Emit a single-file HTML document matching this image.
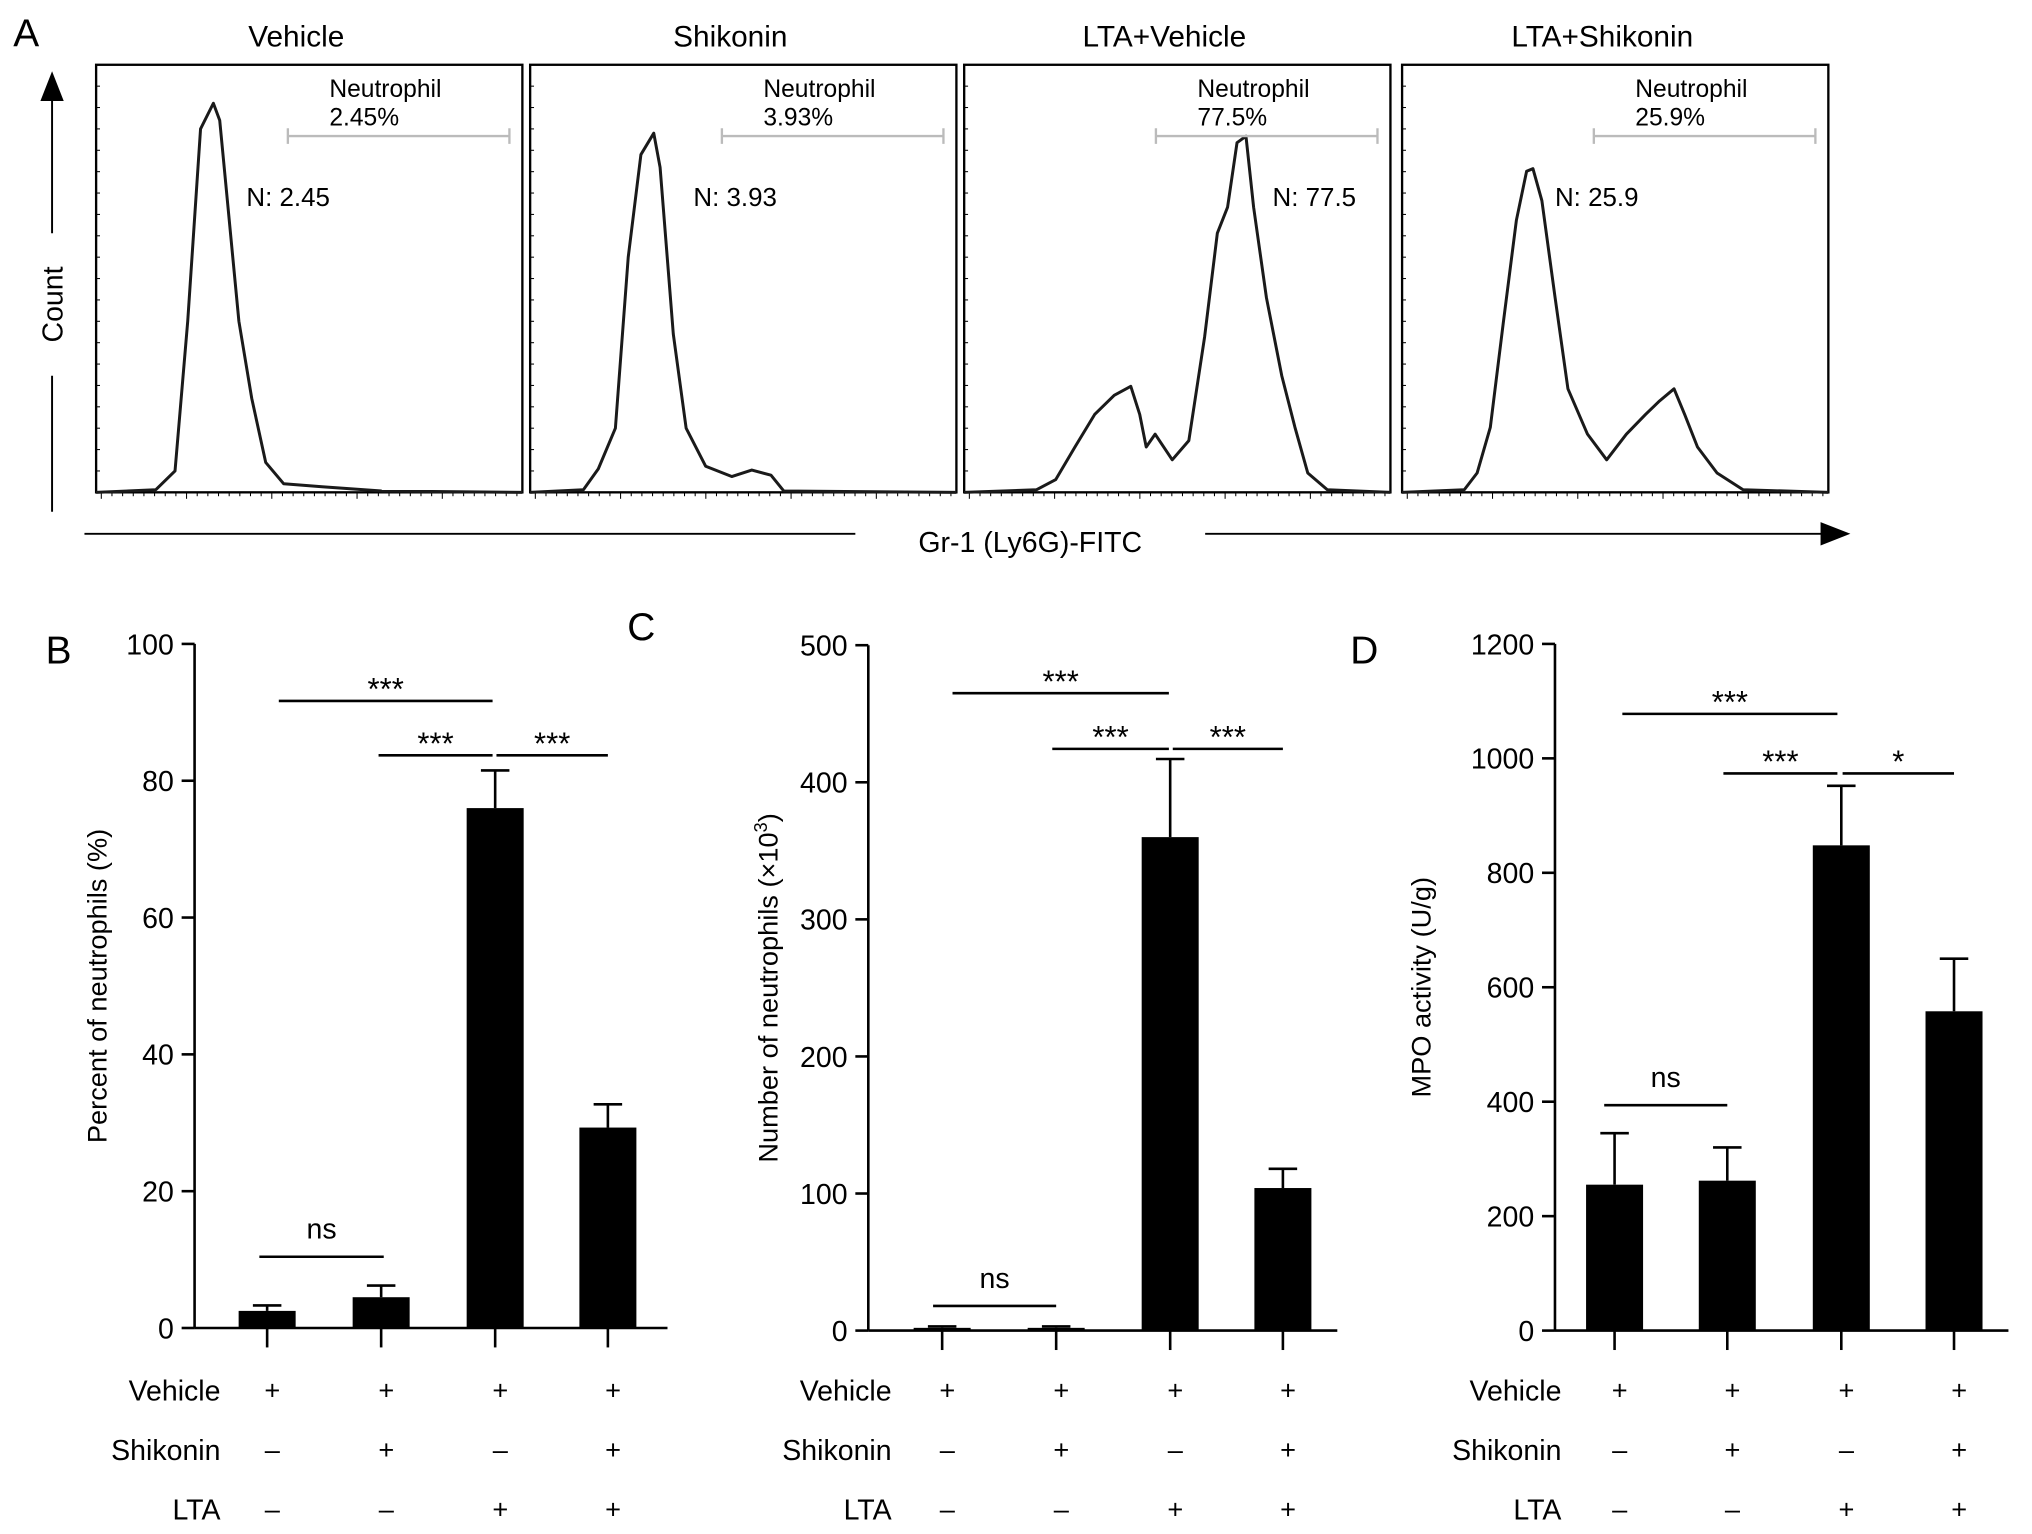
<!DOCTYPE html>
<html><head><meta charset="utf-8"><style>
html,body{margin:0;padding:0;background:#fff;}
svg{display:block;font-family:"Liberation Sans",Arial,sans-serif;}
</style></head><body>
<svg id="fig" width="2032" height="1534" viewBox="0 0 1568 1184" xmlns="http://www.w3.org/2000/svg">
<g id="panelA">
  <text x="10" y="36" font-size="30">A</text>
  <line x1="40" y1="395" x2="40" y2="290" stroke="#000" stroke-width="1.5"/>
  <line x1="40" y1="180" x2="40" y2="75" stroke="#000" stroke-width="1.5"/>
  <polygon points="31,78 49,78 40,55" fill="#000"/>
  <text x="48" y="235" font-size="22" text-anchor="middle" transform="rotate(-90 48 235)">Count</text>
  <line x1="65" y1="412" x2="660" y2="412" stroke="#000" stroke-width="1.5"/>
  <line x1="930" y1="412" x2="1408" y2="412" stroke="#000" stroke-width="1.5"/>
  <polygon points="1405,403 1405,421 1428,412" fill="#000"/>
  <text x="795" y="426" font-size="22" text-anchor="middle">Gr-1 (Ly6G)-FITC</text>
</g>
<g id="panelB"></g>
<g id="panelC"></g>
<g id="panelD"></g>
</svg>
<script>
const NS="http://www.w3.org/2000/svg";
const histTitles=["Vehicle","Shikonin","LTA+Vehicle","LTA+Shikonin"];
const histPct=["2.45%","3.93%","77.5%","25.9%"];
const histN=["N: 2.45","N: 3.93","N: 77.5","N: 25.9"];
const hist1=[[0,0],[0.14,0.006],[0.185,0.05],[0.215,0.4],[0.245,0.85],[0.275,0.91],[0.29,0.87],[0.335,0.4],[0.365,0.22],[0.398,0.07],[0.44,0.02],[0.53,0.013],[0.67,0.003],[1,0]];
const hist2=[[0,0],[0.125,0.006],[0.16,0.055],[0.2,0.15],[0.23,0.55],[0.26,0.79],[0.29,0.84],[0.305,0.76],[0.336,0.37],[0.366,0.15],[0.412,0.061],[0.473,0.037],[0.52,0.052],[0.565,0.04],[0.595,0.003],[1,0]];
const hist3=[[0,0],[0.17,0.006],[0.215,0.03],[0.26,0.106],[0.306,0.182],[0.352,0.227],[0.391,0.248],[0.412,0.182],[0.427,0.106],[0.448,0.136],[0.488,0.076],[0.527,0.121],[0.564,0.364],[0.594,0.606],[0.618,0.667],[0.64,0.818],[0.661,0.833],[0.679,0.667],[0.709,0.455],[0.745,0.273],[0.776,0.152],[0.806,0.045],[0.852,0.006],[1,0]];
const hist4=[[0,0],[0.146,0.006],[0.176,0.045],[0.207,0.152],[0.237,0.394],[0.268,0.636],[0.292,0.751],[0.307,0.757],[0.328,0.682],[0.359,0.455],[0.389,0.242],[0.435,0.136],[0.48,0.076],[0.526,0.136],[0.571,0.182],[0.602,0.212],[0.638,0.242],[0.663,0.182],[0.693,0.106],[0.739,0.045],[0.8,0.006],[1,0]];
const histCurves=[hist1,hist2,hist3,hist4];
const boxX=[74,409,744,1082], boxW=329, boxTop=50, boxBot=380;
const nX=[190,535,982,1200];
const gA=document.getElementById('panelA');
function mk(tag,attrs,parent){const e=document.createElementNS(NS,tag);for(const k in attrs)e.setAttribute(k,attrs[k]);parent.appendChild(e);return e;}
function tx(x,y,s,size,anchor,parent,extra){const e=mk('text',Object.assign({x:x,y:y,'font-size':size,'text-anchor':anchor||'start'},extra||{}),parent);e.textContent=s;return e;}
histCurves.forEach((c,i)=>{
  const x0=boxX[i], h=boxBot-boxTop;
  const g=mk('g',{},gA);
  
  
  const r=mk('rect',{x:x0,y:boxTop,width:boxW,height:h,fill:'none',stroke:'#000','stroke-width':1.8},g);
  
  
  const t=tx(x0+boxW/2-10,36,histTitles[i],23,'middle',g);
  
  
  for(let k=0;k<40;k++){const xx=x0+4+k*boxW/40;const tk=mk('line',{x1:xx,y1:boxBot,x2:xx,y2:boxBot+(k%8==0?5:3),stroke:'#000','stroke-width':0.8},g);
    
    }
  for(let k=0;k<20;k++){const yy=boxBot-k*h/20;const tk=mk('line',{x1:x0,y1:yy,x2:x0+3,y2:yy,stroke:'#000','stroke-width':0.8},g);
    
    }
  const d=c.map((p,j)=>(j?'L':'M')+(x0+p[0]*boxW).toFixed(1)+','+(boxBot-p[1]*h).toFixed(1)).join(' ');
  const p=mk('path',{d:d,fill:'none',stroke:'#1a1a1a','stroke-width':2.3,'stroke-linejoin':'round'},g);
  
  
  const gx=x0+148;
  const gl=mk('path',{d:`M${gx},105 H${gx+171} M${gx},99 V111 M${gx+171},99 V111`,stroke:'#bbb','stroke-width':1.8,fill:'none'},g);
  
  
  const l1=tx(gx+32,75,'Neutrophil',19,'start',g);
  
  
  const l2=tx(gx+32,97,histPct[i],19,'start',g);
  
  
  const l3=tx(nX[i],159,histN[i],20,'start',g);
  
  
});

const rowNames=["Vehicle","Shikonin","LTA"];
const rowSigns=[["+","+","+","+"],["–","+","–","+"],["–","–","+","+"]];
const bValues=[2.5,4.5,76,29.3];
const bErrors=[0.8,1.7,5.5,3.4];
const bTicks=[0,20,40,60,80,100];
const cValues=[2,2,360,104];
const cErrors=[1,1,57,14];
const cTicks=[0,100,200,300,400,500];
const dValues=[255,262,848,558];
const dErrors=[90,58,104,92];
const dTicks=[0,200,400,600,800,1000,1200];

function barPanel(gid,cfg){
  const g=document.getElementById(gid);
  const y=v=>cfg.y0-(v/cfg.max)*(cfg.y0-cfg.yTop);
  const t0=tx(cfg.labX,cfg.labY,cfg.letter,30,'start',g);
  
  
  const ax=mk('line',{x1:cfg.ax,y1:cfg.yTop,x2:cfg.ax,y2:cfg.y0,stroke:'#000','stroke-width':2},g);
  
  
  const xa=mk('line',{x1:cfg.ax,y1:cfg.y0,x2:cfg.xEnd,y2:cfg.y0,stroke:'#000','stroke-width':2},g);
  
  
  cfg.ticks.forEach(v=>{
    const tl=mk('line',{x1:cfg.ax-10,y1:y(v),x2:cfg.ax,y2:y(v),stroke:'#000','stroke-width':2},g);
    
    
    const tt=tx(cfg.ax-16,y(v)+8,String(v),22,'end',g);
    
    
  });
  const yl=tx(cfg.ylX,(cfg.y0+cfg.yTop)/2,cfg.ylabel,21,'middle',g,{transform:`rotate(-90 ${cfg.ylX} ${(cfg.y0+cfg.yTop)/2})`});
  
  
  if(cfg.sup){const ts=mk('tspan',{dy:-8,'font-size':14},yl);ts.textContent='3';
    const ts2=mk('tspan',{dy:8},yl);ts2.textContent=')';}
  cfg.values.forEach((v,i)=>{
    const cx=cfg.cx[i];
    const top=y(v+cfg.errors[i]);
    const el=mk('path',{d:`M${cx},${y(v)} V${top} M${cx-11},${top} H${cx+11}`,stroke:'#000','stroke-width':2,fill:'none'},g);
    
    
    const r=mk('rect',{x:cx-22,y:y(v),width:44,height:cfg.y0-y(v),fill:'#000'},g);
    
    
    const tk=mk('line',{x1:cx,y1:cfg.y0,x2:cx,y2:cfg.y0+15,stroke:'#000','stroke-width':2},g);
    
    
    rowSigns.forEach((row,ri)=>{
      const s=tx(cx+4,1080+ri*46,row[i],21,'middle',g);
      
      
    });
  });
  rowNames.forEach((n,ri)=>{
    const s=tx(cfg.rowX,1081+ri*46,n,22,'end',g);
    
    
  });
  cfg.sig.forEach(s=>{
    const ln=mk('line',{x1:s[0],y1:s[2],x2:s[1],y2:s[2],stroke:'#000','stroke-width':2},g);
    
    
    const isNs=s[3]=='ns';
    const st=tx((s[0]+s[1])/2,s[2]-(isNs?14:1),s[3],isNs?22:24,'middle',g);
    
    
  });
}
barPanel('panelB',{letter:'B',labX:35,labY:512,ax:150,xEnd:515,y0:1025,yTop:497,max:100,ticks:bTicks,values:bValues,errors:bErrors,cx:[206,294,382,469],ylX:82,ylabel:'Percent of neutrophils (%)',rowX:170,
  sig:[[215,380,541,'***'],[292,380,583,'***'],[383,469,583,'***'],[200,296,970,'ns']]});
barPanel('panelC',{letter:'C',labX:484,labY:494,ax:670,xEnd:1032,y0:1027,yTop:498,max:500,ticks:cTicks,values:cValues,errors:cErrors,cx:[727,815,903,990],ylX:600,ylabel:'Number of neutrophils (×10',sup:true,rowX:688,
  sig:[[735,902,535,'***'],[812,902,578,'***'],[905,990,578,'***'],[720,815,1008,'ns']]});
barPanel('panelD',{letter:'D',labX:1042,labY:512,ax:1200,xEnd:1550,y0:1027,yTop:497,max:1200,ticks:dTicks,values:dValues,errors:dErrors,cx:[1246,1333,1421,1508],ylX:1104,ylabel:'MPO activity (U/g)',rowX:1205,
  sig:[[1252,1418,551,'***'],[1330,1418,597,'***'],[1422,1508,597,'*'],[1238,1333,853,'ns']]});
</script>
</body></html>
